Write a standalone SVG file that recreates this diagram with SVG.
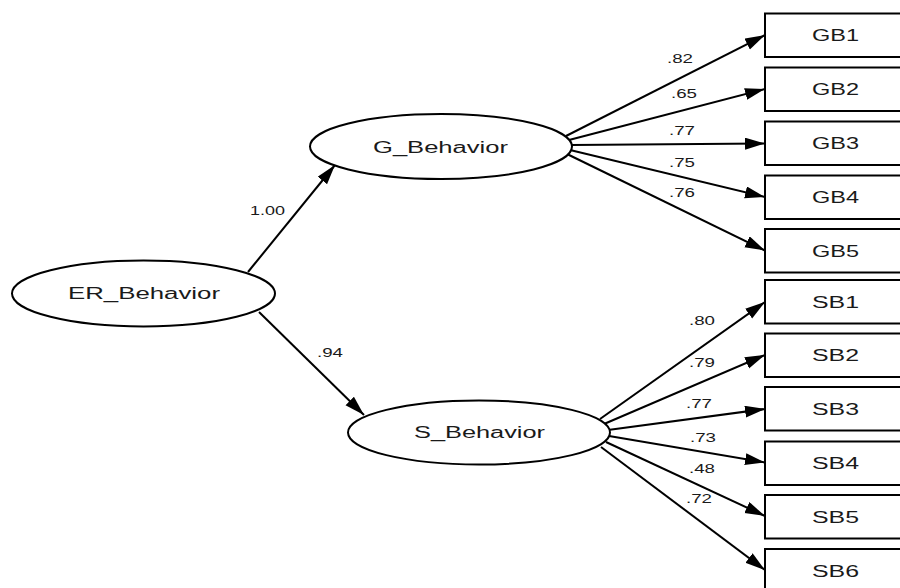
<svg xmlns="http://www.w3.org/2000/svg" width="900" height="588" viewBox="0 0 900 588">
  <defs>
    <marker id="arrow" markerUnits="userSpaceOnUse" markerWidth="21" markerHeight="13" refX="20" refY="6" orient="auto">
      <path d="M0,0 L20,6 L0,12 z" fill="#000"/>
    </marker>
    <style>
      .latent { fill: #fff; stroke: #000; stroke-width: 2; }
      .obs { fill: #fff; stroke: #000; stroke-width: 2; }
      .path { stroke: #000; stroke-width: 2; fill: none; marker-end: url(#arrow); }
      .name { font-family: "Liberation Sans", Arial, sans-serif; font-size: 16px; fill: #1a1a1a; }
      .coef { font-family: "Liberation Sans", Arial, sans-serif; font-size: 12.5px; fill: #1a1a1a; }
    </style>
  </defs>
  <rect width="900" height="588" fill="#fff"/>

  <!-- structural and measurement paths -->
  <g id="connectors">
    <line class="path" x1="248" y1="272" x2="335" y2="165"/>
    <line class="path" x1="259" y1="312" x2="364" y2="415"/>

    <line class="path" x1="566" y1="136" x2="765" y2="35"/>
    <line class="path" x1="569" y1="140" x2="765" y2="89"/>
    <line class="path" x1="571" y1="145" x2="765" y2="143.5"/>
    <line class="path" x1="570" y1="150" x2="765" y2="197"/>
    <line class="path" x1="567" y1="154" x2="765" y2="250.5"/>

    <line class="path" x1="600" y1="419" x2="765" y2="302"/>
    <line class="path" x1="604" y1="424" x2="765" y2="355"/>
    <line class="path" x1="608" y1="430" x2="765" y2="409"/>
    <line class="path" x1="609" y1="436" x2="765" y2="462.5"/>
    <line class="path" x1="606" y1="442" x2="765" y2="516"/>
    <line class="path" x1="601" y1="447" x2="765" y2="570"/>

    <!-- path coefficients -->
    <text class="coef" x="250" y="215" textLength="35" lengthAdjust="spacingAndGlyphs">1.00</text>
    <text class="coef" x="317" y="357" textLength="26" lengthAdjust="spacingAndGlyphs">.94</text>

    <text class="coef" x="667" y="63" textLength="26" lengthAdjust="spacingAndGlyphs">.82</text>
    <text class="coef" x="671" y="98" textLength="26" lengthAdjust="spacingAndGlyphs">.65</text>
    <text class="coef" x="669" y="135" textLength="26" lengthAdjust="spacingAndGlyphs">.77</text>
    <text class="coef" x="669" y="167" textLength="26" lengthAdjust="spacingAndGlyphs">.75</text>
    <text class="coef" x="669" y="197" textLength="26" lengthAdjust="spacingAndGlyphs">.76</text>

    <text class="coef" x="689" y="325" textLength="26" lengthAdjust="spacingAndGlyphs">.80</text>
    <text class="coef" x="689" y="367" textLength="26" lengthAdjust="spacingAndGlyphs">.79</text>
    <text class="coef" x="686" y="408" textLength="26" lengthAdjust="spacingAndGlyphs">.77</text>
    <text class="coef" x="690" y="442" textLength="26" lengthAdjust="spacingAndGlyphs">.73</text>
    <text class="coef" x="689" y="473" textLength="26" lengthAdjust="spacingAndGlyphs">.48</text>
    <text class="coef" x="686" y="503" textLength="26" lengthAdjust="spacingAndGlyphs">.72</text>
  </g>

  <!-- latent variables -->
  <g id="ER_Behavior">
    <ellipse class="latent" cx="143.5" cy="293.5" rx="131.5" ry="33"/>
    <text class="name" x="68" y="299" textLength="152" lengthAdjust="spacingAndGlyphs">ER_Behavior</text>
  </g>
  <g id="G_Behavior">
    <ellipse class="latent" cx="441" cy="146.5" rx="131" ry="32.5"/>
    <text class="name" x="373" y="153" textLength="135" lengthAdjust="spacingAndGlyphs">G_Behavior</text>
  </g>
  <g id="S_Behavior">
    <ellipse class="latent" cx="479" cy="432.5" rx="131" ry="32"/>
    <text class="name" x="414" y="438" textLength="131" lengthAdjust="spacingAndGlyphs">S_Behavior</text>
  </g>

  <!-- observed indicators -->
  <g id="GB1"><rect class="obs" x="765" y="13.5" width="141" height="43.5"/><text class="name" x="812" y="41" textLength="47" lengthAdjust="spacingAndGlyphs">GB1</text></g>
  <g id="GB2"><rect class="obs" x="765" y="67.5" width="141" height="43.5"/><text class="name" x="812" y="95" textLength="47" lengthAdjust="spacingAndGlyphs">GB2</text></g>
  <g id="GB3"><rect class="obs" x="765" y="121.5" width="141" height="43.5"/><text class="name" x="812" y="149" textLength="47" lengthAdjust="spacingAndGlyphs">GB3</text></g>
  <g id="GB4"><rect class="obs" x="765" y="175.5" width="141" height="43.5"/><text class="name" x="812" y="203" textLength="47" lengthAdjust="spacingAndGlyphs">GB4</text></g>
  <g id="GB5"><rect class="obs" x="765" y="229" width="141" height="43.5"/><text class="name" x="812" y="256.5" textLength="47" lengthAdjust="spacingAndGlyphs">GB5</text></g>
  <g id="SB1"><rect class="obs" x="765" y="280" width="141" height="43.5"/><text class="name" x="812" y="307.5" textLength="47" lengthAdjust="spacingAndGlyphs">SB1</text></g>
  <g id="SB2"><rect class="obs" x="765" y="333.5" width="141" height="43.5"/><text class="name" x="812" y="361" textLength="47" lengthAdjust="spacingAndGlyphs">SB2</text></g>
  <g id="SB3"><rect class="obs" x="765" y="387" width="141" height="43.5"/><text class="name" x="812" y="414.5" textLength="47" lengthAdjust="spacingAndGlyphs">SB3</text></g>
  <g id="SB4"><rect class="obs" x="765" y="441.5" width="141" height="43.5"/><text class="name" x="812" y="469" textLength="47" lengthAdjust="spacingAndGlyphs">SB4</text></g>
  <g id="SB5"><rect class="obs" x="765" y="495" width="141" height="43.5"/><text class="name" x="812" y="522.5" textLength="47" lengthAdjust="spacingAndGlyphs">SB5</text></g>
  <g id="SB6"><rect class="obs" x="765" y="549" width="141" height="43.5"/><text class="name" x="812" y="576.5" textLength="47" lengthAdjust="spacingAndGlyphs">SB6</text></g>
</svg>
